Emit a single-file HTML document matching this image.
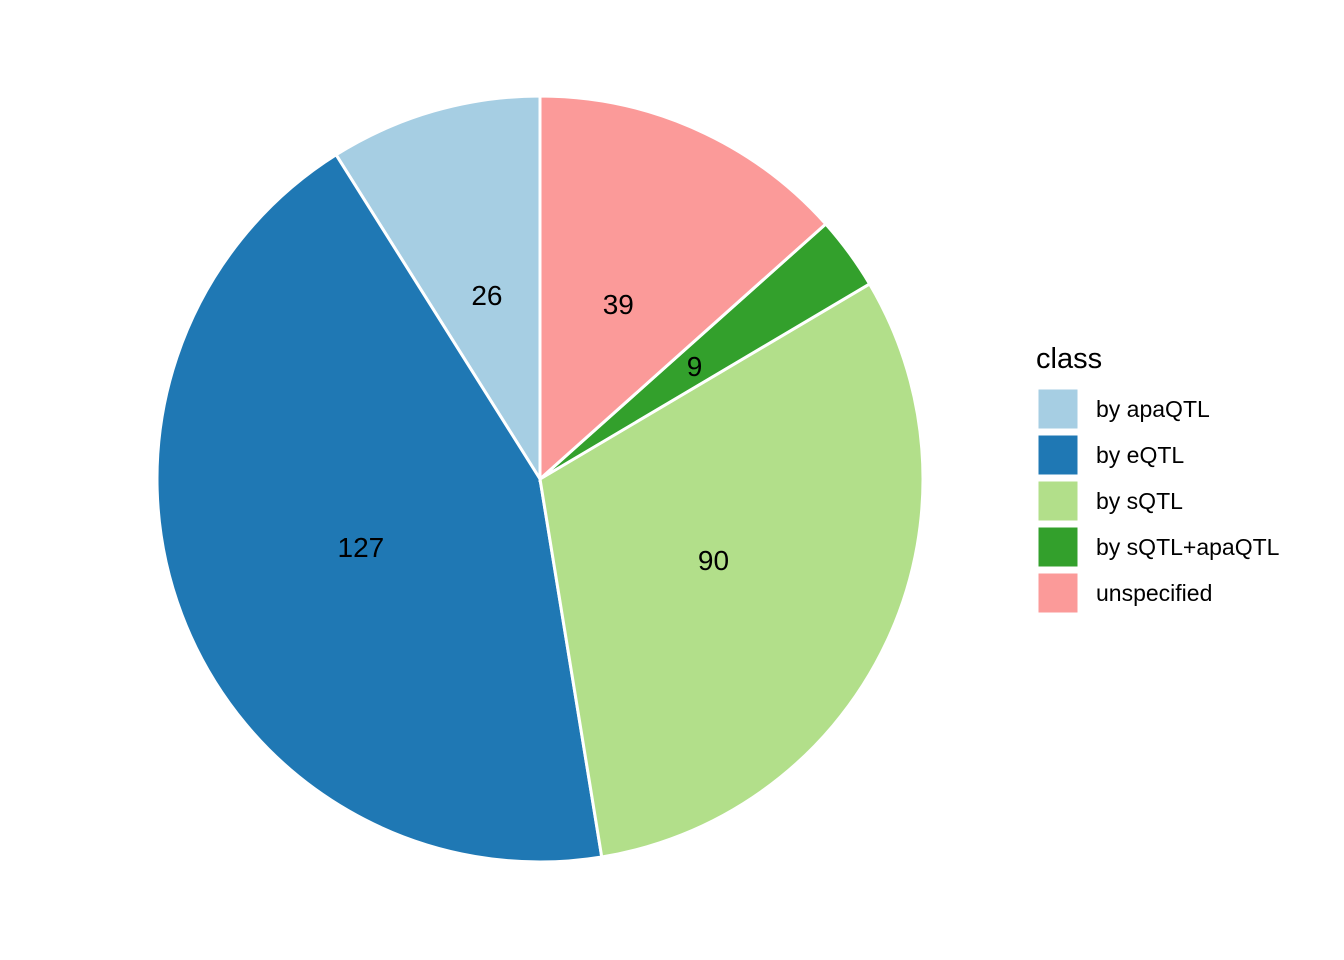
<!DOCTYPE html>
<html><head><meta charset="utf-8"><style>
html,body{margin:0;padding:0;background:#fff;}
svg{display:block;font-family:"Liberation Sans",Arial,sans-serif;}
</style></head><body>
<svg id="chart" width="1344" height="960" viewBox="0 0 1344 960">
<rect width="1344" height="960" fill="#fff"/>
<g id="slices"></g>
<g id="labels"></g>
<g id="legend">
<text x="1036" y="368" font-size="29" fill="#000">class</text>
</g>
</svg>
<script>
const categories = ["by apaQTL","by eQTL","by sQTL","by sQTL+apaQTL","unspecified"];
const values = [26,127,90,9,39];
const colors = ["#A6CEE3","#1F78B4","#B2DF8A","#33A02C","#FB9A99"];
const cx=540, cy=479, R=383;
const ns="http://www.w3.org/2000/svg";
const total=values.reduce((a,b)=>a+b,0);
function pt(angle,r){
  return [cx - r*Math.sin(angle), cy - r*Math.cos(angle)];
}
let acc=0;
const sg=document.getElementById('slices'), lg=document.getElementById('labels'), leg=document.getElementById('legend');
values.forEach((v,i)=>{
  const a0=acc/total*2*Math.PI, a1=(acc+v)/total*2*Math.PI; acc+=v;
  const p0=pt(a0,R), p1=pt(a1,R);
  const large=(a1-a0)>Math.PI?1:0;
  const path=document.createElementNS(ns,'path');
  path.setAttribute('d',`M${cx},${cy} L${p0[0]},${p0[1]} A${R},${R} 0 ${large} 0 ${p1[0]},${p1[1]} Z`);
  path.setAttribute('fill',colors[i]);
  path.setAttribute('stroke','#fff');
  path.setAttribute('stroke-width','3');
  
  
  sg.appendChild(path);
  const m=pt((a0+a1)/2,R/2);
  const t=document.createElementNS(ns,'text');
  t.setAttribute('x',m[0]); t.setAttribute('y',m[1]+10);
  t.setAttribute('text-anchor','middle'); t.setAttribute('font-size','28');
  t.textContent=v;
  
  
  lg.appendChild(t);
  const ky=389+i*46;
  const r=document.createElementNS(ns,'rect');
  r.setAttribute('x',1038); r.setAttribute('y',ky); r.setAttribute('width',40); r.setAttribute('height',40);
  r.setAttribute('fill',colors[i]); r.setAttribute('stroke','#fff'); r.setAttribute('stroke-width','1');
  
  
  leg.appendChild(r);
  const lt=document.createElementNS(ns,'text');
  lt.setAttribute('x',1096); lt.setAttribute('y',ky+28); lt.setAttribute('font-size','23');
  lt.textContent=categories[i];
  
  
  leg.appendChild(lt);
});
</script>
</body></html>
